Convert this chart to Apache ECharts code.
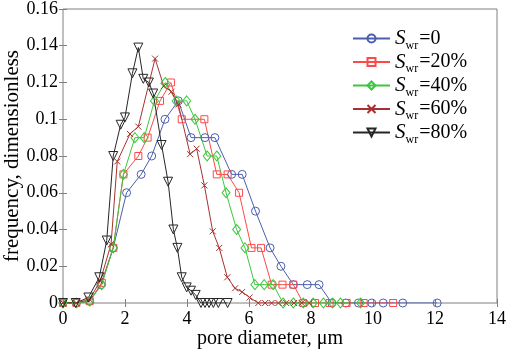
<!DOCTYPE html>
<html>
<head>
<meta charset="utf-8">
<script src="https://cdn.jsdelivr.net/npm/echarts@6/dist/echarts.min.js"></script>
<style>html,body{margin:0;padding:0;background:#fff}#c{width:512px;height:350px}</style>
</head>
<body>
<div id="c"></div>
<script>
// ---- data ----
const legendNames = ['S_wr=0', 'S_wr=20%', 'S_wr=40%', 'S_wr=60%', 'S_wr=80%'];
const legendSuffix = ['=0', '=20%', '=40%', '=60%', '=80%'];

const diam0 = [0,0.43,0.86,1.22,1.62,2.05,2.52,2.86,3.29,3.72,4.13,4.58,4.90,5.44,5.78,6.21,6.68,7.03,7.43,7.88,8.26,8.67,9.12,9.53,9.96,10.33,10.96,12.07];
const freq0 = [0,0,0.001,0.010,0.030,0.060,0.070,0.080,0.100,0.110,0.090,0.090,0.090,0.070,0.070,0.050,0.030,0.020,0.010,0.010,0.010,0,0,0,0,0,0,0];

const diam20 = [0,0.43,0.86,1.25,1.62,1.95,2.43,2.73,3.13,3.48,3.83,4.56,4.96,5.31,5.68,6.08,6.39,6.73,7.08,7.43,7.75,8.13,8.6,9.15,9.7,10.65];
const freq20 = [0,0,0.001,0.011,0.030,0.070,0.080,0.090,0.110,0.120,0.100,0.100,0.070,0.070,0.060,0.030,0.030,0.010,0.010,0.010,0,0,0,0,0,0];

const diam40 = [0,0.43,0.86,1.25,1.62,1.95,2.32,2.62,2.95,3.30,3.65,3.99,4.26,4.65,4.96,5.26,5.60,5.87,6.19,6.49,6.78,7.10,7.43,7.75,8.07,8.4,8.7,8.95,9.6];
const freq40 = [0,0,0.001,0.010,0.030,0.070,0.090,0.090,0.110,0.120,0.110,0.110,0.100,0.080,0.080,0.060,0.040,0.030,0.010,0.010,0.010,0,0,0,0,0,0,0,0];

const diam60 = [0,0.43,0.86,1.2,1.55,1.75,2.16,2.43,2.97,3.25,3.5,3.72,4.10,4.31,4.56,4.83,5.04,5.30,5.55,5.78,6.02,6.3,6.52,6.73,6.95,7.2,7.45,7.7,7.95];
const freq60 = [0,0,0.002,0.012,0.032,0.077,0.092,0.096,0.133,0.118,0.115,0.108,0.081,0.084,0.064,0.039,0.030,0.014,0.008,0.006,0.003,0,0,0,0,0,0,0,0];

const diam80 = [0,0.41,0.82,1.17,1.41,1.62,1.86,2.0,2.24,2.43,2.59,2.77,2.91,3.18,3.39,3.56,3.69,3.83,3.99,4.13,4.28,4.45,4.58,4.71,4.85,5.01,5.31];
const freq80 = [0,0,0.003,0.014,0.034,0.080,0.097,0.101,0.125,0.139,0.122,0.120,0.114,0.086,0.066,0.040,0.030,0.014,0.0085,0.0067,0.0044,0,0,0,0,0,0];

const xTicks = [0,2,4,6,8,10,12,14];
const yTicks = [0,0.02,0.04,0.06,0.08,0.1,0.12,0.14,0.16];

// ---- chart ----
const font = 'Liberation Serif';
const pair = (xs, ys) => xs.map((x, i) => [x, ys[i]]);
const colors = ['#4b5fae', '#ff4848', '#3cc83c', '#a83030', '#262626'];
const symbols = ['circle', 'rect', 'diamond', 'path://M0,0L10,10M10,0L0,10', 'triangle'];
const sizes = [8, 7, [8, 10], 6, 9];
const rot = [0, 0, 0, 0, 180];
const dataSets = [pair(diam0, freq0), pair(diam20, freq20), pair(diam40, freq40), pair(diam60, freq60), pair(diam80, freq80)];

const series = dataSets.map((d, i) => ({
  name: legendNames[i],
  type: 'line',
  data: d,
  symbol: symbols[i],
  symbolSize: sizes[i],
  symbolRotate: rot[i],
  showAllSymbol: true,
  lineStyle: { color: colors[i], width: 1 },
  itemStyle: { color: 'rgba(255,255,255,0)', borderColor: colors[i], borderWidth: 1 },
  emphasis: { disabled: true },
  animation: false
}));

const axisCommonX = {
  type: 'value', min: 0, max: 14, interval: 2,
  axisLine: { show: false },
  splitLine: { show: false },
  nameMoveOverlap: false,
  axisTick: { show: true, inside: true, length: 4, lineStyle: { color: '#808080' } }
};
const axisCommonY = {
  type: 'value', min: 0, max: 0.16, interval: 0.02,
  axisLine: { show: false },
  splitLine: { show: false },
  nameMoveOverlap: false,
  axisTick: { show: true, inside: true, length: 4, lineStyle: { color: '#808080' } }
};

const chart = echarts.init(document.getElementById('c'), null, { renderer: 'canvas' });
chart.setOption({
  backgroundColor: '#fff',
  animation: false,
  grid: { left: 63, right: 15, top: 9, bottom: 47, show: true, borderColor: '#808080', borderWidth: 1,
    backgroundColor: 'transparent', containLabel: false, outerBoundsMode: 'none' },
  xAxis: [
    Object.assign({}, axisCommonX, {
      position: 'bottom',
      name: 'pore diameter, μm', nameLocation: 'middle', nameGap: 26,
      nameTextStyle: { fontFamily: font, fontSize: 20, color: '#000', padding: [0, 20, 0, 0] },
      axisLabel: { fontFamily: font, fontSize: 18, color: '#000', margin: 7,
        formatter: v => xTicks.includes(v) ? String(v) : '' }
    }),
    Object.assign({}, axisCommonX, { position: 'top', axisLabel: { show: false } })
  ],
  yAxis: [
    Object.assign({}, axisCommonY, {
      position: 'left',
      name: 'frequency, dimensionless', nameLocation: 'middle', nameGap: 40,
      nameTextStyle: { fontFamily: font, fontSize: 21, color: '#000' },
      axisLabel: { fontFamily: font, fontSize: 18, color: '#000', margin: 5,
        formatter: v => { const t = yTicks.find(t => Math.abs(t - v) < 1e-9); return t === undefined ? '' : String(t); } }
    }),
    Object.assign({}, axisCommonY, { position: 'right', axisLabel: { show: false } })
  ],
  legend: {
    orient: 'vertical', left: 352, top: 28, padding: 0,
    itemWidth: 37, itemHeight: 10, itemGap: 0,
    data: legendNames,
    formatter: name => {
      const i = legendNames.indexOf(name);
      return '{s|S}{w|wr}{t|' + legendSuffix[i] + '}';
    },
    textStyle: {
      color: '#000', fontFamily: font, fontSize: 20, lineHeight: 18,
      rich: {
        s: { fontFamily: font, fontSize: 21, fontStyle: 'italic', color: '#000', lineHeight: 18, verticalAlign: 'middle' },
        w: { fontFamily: font, fontSize: 12, color: '#000', lineHeight: 4, height: 4, verticalAlign: 'bottom', padding: [0, 1, 0, 0] },
        t: { fontFamily: font, fontSize: 20, color: '#000', lineHeight: 18, verticalAlign: 'middle' }
      }
    }
  },
  series: series
});
</script>
</body>
</html>
